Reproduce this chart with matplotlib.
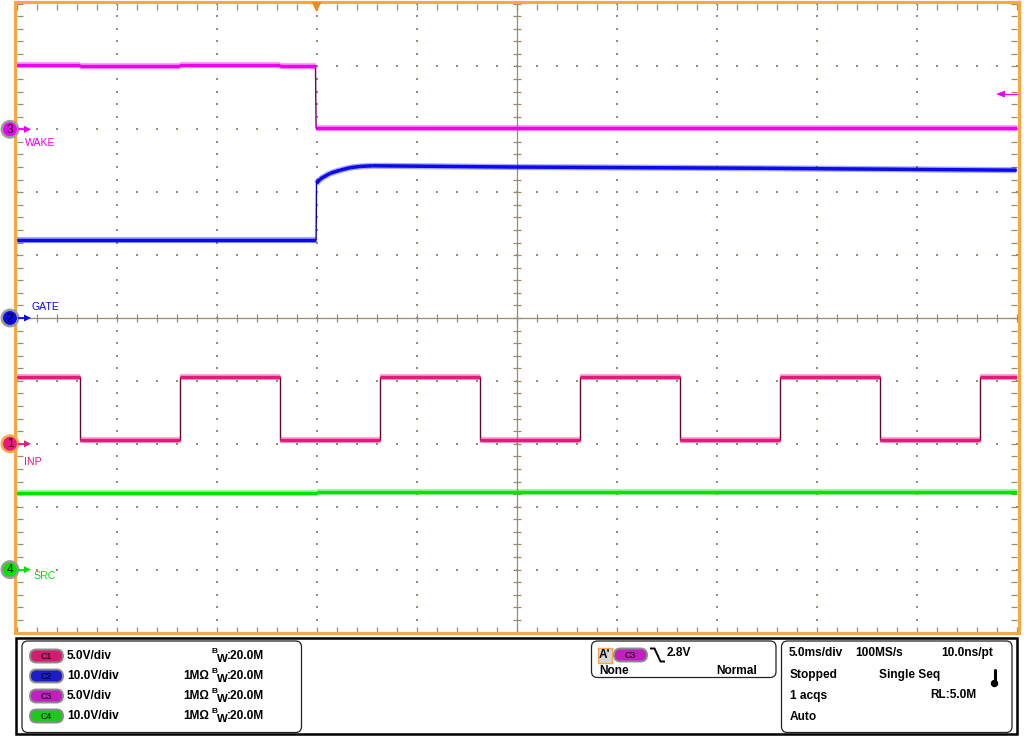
import numpy as np
import matplotlib
matplotlib.use("Agg")
import matplotlib.pyplot as plt
from matplotlib.collections import LineCollection
from matplotlib.patches import Rectangle, FancyBboxPatch, Circle, Polygon

# ---------------- data (time in ms, values in volts) ----------------
time_span_ms = 50.0            # 10 div x 5.0 ms/div

# C1 INP : square wave, edge times and levels
inp_edges_ms = [3.15, 8.15, 13.15, 18.15, 23.15, 28.15, 33.15, 38.15, 43.15, 48.15]
inp_high_v = 5.3
inp_low_v = 0.3

# C2 GATE
gate_t = [0.0, 14.98, 15.0, 15.18, 15.68, 16.18, 16.68, 17.18, 17.8, 25.0, 37.5, 50.0]
gate_v = [12.4, 12.4, 21.4, 22.1, 23.0, 23.5, 23.9, 24.1, 24.2, 24.0, 23.8, 23.5]

# C3 WAKE
wake_t = [0.0, 3.15, 3.15, 8.15, 8.15, 13.15, 13.15, 14.95, 14.98, 50.0]
wake_v = [5.09, 5.09, 5.01, 5.01, 5.09, 5.09, 5.01, 5.01, 0.08, 0.08]

# C4 SRC
src_t = [0.0, 15.0, 15.0, 50.0]
src_v = [12.15, 12.15, 12.35, 12.35]

channels = ["C1", "C2", "C3", "C4"]
ch_labels = ["INP", "GATE", "WAKE", "SRC"]
ch_scale = [5.0, 10.0, 5.0, 10.0]        # V/div
ch_offset = [-2.0, 0.0, 3.0, -4.0]       # marker position in div
ch_scale_txt = ["5.0V/div", "10.0V/div", "5.0V/div", "10.0V/div"]
ch_imp_txt = ["", "1MΩ", "1MΩ", "1MΩ"]
trigger_time_ms = 15.0
trigger_level_v = 2.8

# ---------------- styling ----------------
col = {"C1": "#e8187c", "C2": "#0a0aec", "C3": "#f000f0", "C4": "#00e400"}
edge_col = {"C1": "#5a0a30", "C2": "#0000b0", "C3": "#6a006a", "C4": "#008800"}
badge_col = {"C1": "#d41c6e", "C2": "#1c1cc8", "C3": "#c21ec2", "C4": "#1ec81e"}
ORANGE = "#f5a843"
GRID = "#9c8c6a"
FONT = "Liberation Sans"

W, H = 1024, 736
fig = plt.figure(figsize=(W / 100, H / 100), dpi=100)
fig.patch.set_facecolor("white")

X0, X1 = 16.5, 1016.5
Y0, Y1 = 3.5, 632.5
DX = (X1 - X0) / 10
DY = (Y1 - Y0) / 10

# background axes (pixel coords) for graticule
bg = fig.add_axes([0, 0, 1, 1], zorder=0)
bg.set_xlim(0, W); bg.set_ylim(H, 0); bg.set_axis_off()

# data axes
ax = fig.add_axes([X0 / W, (H - Y1) / H, (X1 - X0) / W, (Y1 - Y0) / H], zorder=1)
ax.set_xlim(0, time_span_ms); ax.set_ylim(-5, 5)
ax.patch.set_alpha(0)
ax.set_axis_off()

# foreground axes (pixel coords)
fg = fig.add_axes([0, 0, 1, 1], zorder=2)
fg.set_xlim(0, W); fg.set_ylim(H, 0); fg.set_axis_off()
fg.patch.set_alpha(0)

# ---------------- graticule ----------------
dots_x, dots_y = [], []
for i in range(1, 10):
    if i == 5:
        continue
    x = X0 + i * DX
    for k in range(0, 51):
        dots_x.append(x); dots_y.append(Y0 + k * DY / 5)
for j in range(1, 10):
    if j == 5:
        continue
    y = Y0 + j * DY
    for k in range(0, 51):
        dots_x.append(X0 + k * DX / 5); dots_y.append(y)
bg.scatter(dots_x, dots_y, s=1.6, marker="s", color=GRID, linewidths=0)

cx, cy = X0 + 5 * DX, Y0 + 5 * DY
bg.plot([cx, cx], [Y0, Y1], color=GRID, lw=0.9)
bg.plot([X0, X1], [cy, cy], color=GRID, lw=0.9)
segs = []
for k in range(0, 51):
    y = Y0 + k * DY / 5
    segs.append([(cx - 4, y), (cx + 4, y)])
    segs.append([(X0, y), (X0 + 6, y)])
    segs.append([(X1 - 6, y), (X1, y)])
    x = X0 + k * DX / 5
    segs.append([(x, cy - 4), (x, cy + 4)])
    segs.append([(x, Y0), (x, Y0 + 6)])
    segs.append([(x, Y1 - 6), (x, Y1)])
bg.add_collection(LineCollection(segs, colors=GRID, linewidths=0.9))


# ---------------- traces ----------------
def draw_trace(t, v, ch):
    i = channels.index(ch)
    t = np.asarray(t, float)
    y = np.asarray(v, float) / ch_scale[i] + ch_offset[i]
    ax.plot(t, y, color=edge_col[ch], lw=1.0, zorder=3, solid_joinstyle="miter")
    thick = [[(t[k], y[k]), (t[k + 1], y[k + 1])] for k in range(len(t) - 1)
             if t[k + 1] - t[k] > 0.05]
    ax.add_collection(LineCollection(thick, colors=col[ch], linewidths=4.4,
                                     alpha=0.35, capstyle="butt", zorder=4))
    ax.add_collection(LineCollection(thick, colors=col[ch], linewidths=2.5,
                                     capstyle="butt", zorder=5))


# build INP step series from edges
inp_t, inp_v = [0.0], [inp_high_v]
level = inp_high_v
for e in inp_edges_ms:
    inp_t.append(e); inp_v.append(level)
    level = inp_low_v if level == inp_high_v else inp_high_v
    inp_t.append(e); inp_v.append(level)
inp_t.append(time_span_ms); inp_v.append(level)

draw_trace(wake_t, wake_v, "C3")
draw_trace(gate_t, gate_v, "C2")
draw_trace(inp_t, inp_v, "C1")
draw_trace(src_t, src_v, "C4")

# ---------------- frame & trigger markers ----------------
fg.add_patch(Rectangle((14.5, 1.5), 1004, 631.5, fill=False, edgecolor=ORANGE, lw=2.3))
trig_x = X0 + trigger_time_ms / time_span_ms * (X1 - X0)
fg.add_patch(Polygon([(trig_x - 5, 2), (trig_x + 5, 2), (trig_x, 12)], closed=True,
                     color="#f28a1e", lw=0))
ci = channels.index("C3")
trig_y = cy - (trigger_level_v / ch_scale[ci] + ch_offset[ci]) * DY
fg.plot([1003, X1], [trig_y, trig_y], color=col["C3"], lw=1.0)
fg.add_patch(Polygon([(996, trig_y), (1005, trig_y - 3.5), (1005, trig_y + 3.5)],
                     closed=True, color=col["C3"], lw=0))

# channel markers
label_pos = {"C1": (24, 18), "C2": (31, -11), "C3": (25, 14), "C4": (33, 6)}
for i, ch in enumerate(channels):
    y = cy - ch_offset[i] * DY
    ring = ORANGE if ch == "C1" else "#9a9a9a"
    fg.add_patch(Circle((10, y), 8.2, facecolor=col[ch], edgecolor=ring, lw=1.8, zorder=5))
    fg.text(10, y + 0.5, ch[1], ha="center", va="center", fontsize=8.5, color="black",
            family=FONT, zorder=6)
    fg.plot([19, 26], [y, y], color=col[ch], lw=1.3, zorder=5)
    fg.add_patch(Polygon([(31, y), (24, y - 3.5), (24, y + 3.5)], closed=True,
                         color=col[ch], lw=0, zorder=5))
    lx, dy = label_pos[ch]
    fg.text(lx, y + dy, ch_labels[i], ha="left", va="center", fontsize=7.6,
            color=col[ch], family=FONT)

# ---------------- bottom panel ----------------
fg.add_patch(Rectangle((16, 638), 1001, 95.5, fill=False, edgecolor="black", lw=1.8))


def rbox(x0, y0, x1, y1):
    fg.add_patch(FancyBboxPatch((x0, y0), x1 - x0, y1 - y0,
                                boxstyle="round,pad=0,rounding_size=6",
                                fill=False, edgecolor="#222222", lw=0.9))


rbox(22, 641, 301.5, 732.5)
rbox(591.5, 641, 776, 677.5)
rbox(781.5, 641, 1012, 732.5)


def badge(x0, yc, ch):
    fg.add_patch(FancyBboxPatch((x0, yc - 6.5), 33, 13,
                                boxstyle="round,pad=0,rounding_size=6.5",
                                facecolor=badge_col[ch], edgecolor="#8c8c8c", lw=1.4))
    fg.text(x0 + 16.5, yc + 0.5, ch, ha="center", va="center", fontsize=6.3,
            color="black", family=FONT)


TXT = dict(family=FONT, fontsize=8.6, fontweight="bold", color="black", va="center")
rows = [656, 676, 696, 716]
for i, ch in enumerate(channels):
    y = rows[i]
    badge(30, y, ch)
    fg.text(67, y, ch_scale_txt[i], ha="left", **TXT)
    if ch_imp_txt[i]:
        fg.text(183, y, ch_imp_txt[i], ha="left", **TXT)
    fg.text(211.5, y - 4.5, "B", ha="left", family=FONT, fontsize=6.0,
            fontweight="bold", va="center")
    fg.text(216.5, y + 2.5, "W", ha="left", family=FONT, fontsize=8.2,
            fontweight="bold", va="center")
    fg.text(226.5, y, ":20.0M", ha="left", **TXT)

# trigger box
fg.add_patch(Rectangle((597.5, 648), 14, 15, facecolor="#d6d6d6", edgecolor=ORANGE, lw=1.0))
fg.text(604.5, 655.5, "A'", ha="center", **TXT)
badge(614, 655, "C3")
fg.plot([651, 654.5, 660.5, 664], [648.5, 648.5, 661.5, 661.5], color="black", lw=1.4)
fg.text(667, 653, "2.8V", ha="left", **TXT)
fg.text(599, 670.5, "None", ha="left", **TXT)
fg.text(757, 670.5, "Normal", ha="right", **TXT)

# acquisition box
fg.text(789, 653, "5.0ms/div", ha="left", **TXT)
fg.text(855, 653, "100MS/s", ha="left", **TXT)
fg.text(993, 653, "10.0ns/pt", ha="right", **TXT)
fg.text(790, 675, "Stopped", ha="left", **TXT)
fg.text(879, 675, "Single Seq", ha="left", **TXT)
fg.plot([994.5, 994.5], [670, 682], color="black", lw=2.2, solid_capstyle="round")
fg.add_patch(Circle((994.5, 683.5), 3.0, color="black"))
fg.text(790, 695.5, "1 acqs", ha="left", **TXT)
fg.text(976, 695.5, "RL:5.0M", ha="right", **TXT)
fg.text(790, 716.5, "Auto", ha="left", **TXT)

fig.savefig("out.png", dpi=100, facecolor="white")
